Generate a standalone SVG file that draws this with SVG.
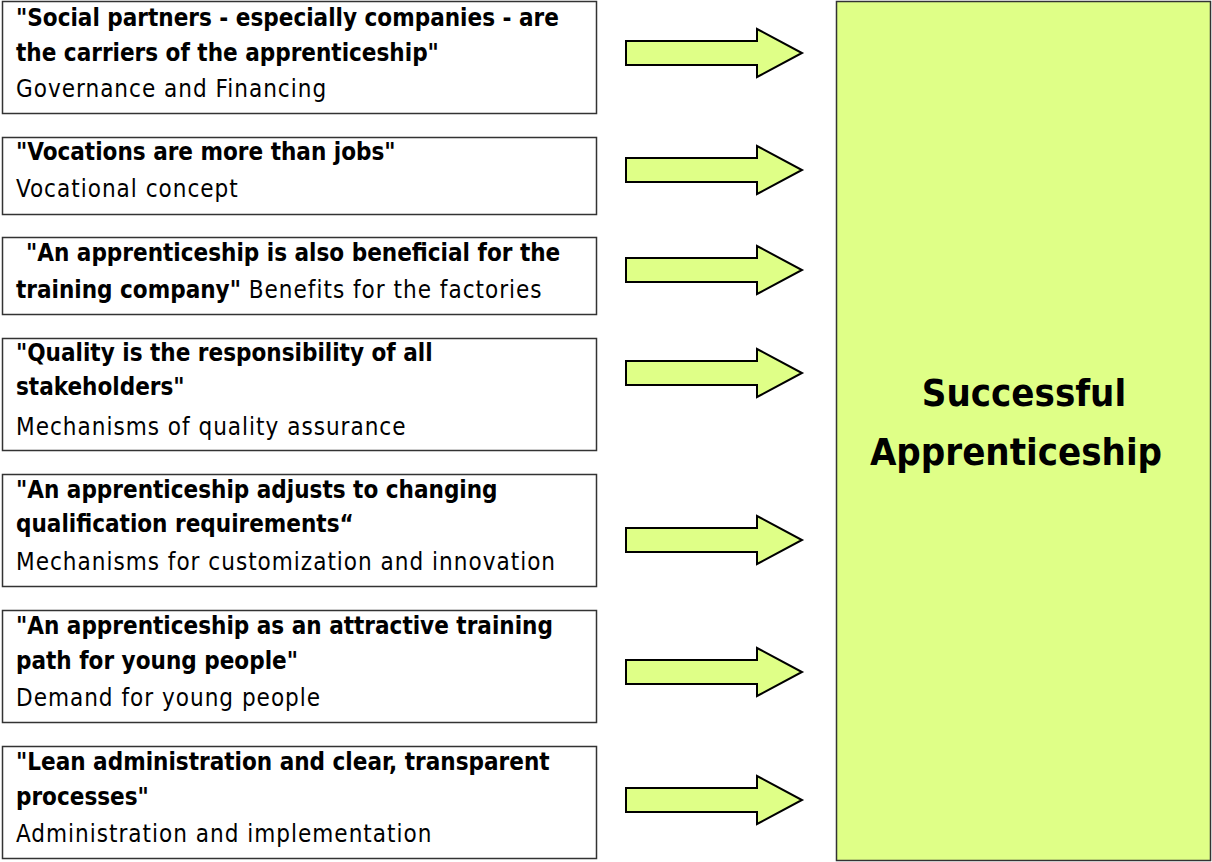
<svg xmlns="http://www.w3.org/2000/svg" width="1212" height="862" viewBox="0 0 1212 862">
<style>
.box{fill:#ffffff;stroke:#333333;stroke-width:1.5}
.t{font-family:"DejaVu Sans Condensed","DejaVu Sans",sans-serif;font-size:24px;fill:#000000;letter-spacing:1px}
.b{font-weight:bold;letter-spacing:0px}
.arrow{fill:#dfff87;stroke:#000000;stroke-width:2;stroke-linejoin:miter}
.big{fill:#dfff87;stroke:#333333;stroke-width:1.5}
.title{font-family:"DejaVu Sans Condensed","DejaVu Sans",sans-serif;font-size:38px;font-weight:bold;fill:#000000;text-anchor:middle}
</style>
<defs>
<path id="arr" d="M0,-12 H131 V-24 L176,0 L131,24 V12 H0 Z"/>
</defs>
<rect width="1212" height="862" fill="#ffffff"/>
<g id="node-result">
<rect class="big" x="836.5" y="1.5" width="374" height="859"/>
<text class="title" x="1024" y="406">Successful</text>
<text class="title" x="1016" y="465">Apprenticeship</text>
</g>
<g id="node-1">
<rect class="box" x="2.5" y="1.5" width="594" height="112"/>
<text class="t b" x="16" y="26">"Social partners - especially companies - are</text>
<text class="t b" x="16" y="61">the carriers of the apprenticeship"</text>
<text class="t" x="16" y="97">Governance and Financing</text>
</g>
<g id="node-2">
<rect class="box" x="2.5" y="137.5" width="594" height="77"/>
<text class="t b" x="16" y="160">"Vocations are more than jobs"</text>
<text class="t" x="16" y="197">Vocational concept</text>
</g>
<g id="node-3">
<rect class="box" x="2.5" y="237.5" width="594" height="77"/>
<text class="t b" x="26" y="261">"An apprenticeship is also beneficial for the</text>
<text class="t" x="16" y="298"><tspan class="b">training company"</tspan> Benefits for the factories</text>
</g>
<g id="node-4">
<rect class="box" x="2.5" y="338.5" width="594" height="112"/>
<text class="t b" x="16" y="361">"Quality is the responsibility of all</text>
<text class="t b" x="16" y="395">stakeholders"</text>
<text class="t" x="16" y="435">Mechanisms of quality assurance</text>
</g>
<g id="node-5">
<rect class="box" x="2.5" y="474.5" width="594" height="112"/>
<text class="t b" x="16" y="498">"An apprenticeship adjusts to changing</text>
<text class="t b" x="16" y="532">qualification requirements“</text>
<text class="t" x="16" y="570">Mechanisms for customization and innovation</text>
</g>
<g id="node-6">
<rect class="box" x="2.5" y="610.5" width="594" height="112"/>
<text class="t b" x="16" y="634">"An apprenticeship as an attractive training</text>
<text class="t b" x="16" y="669">path for young people"</text>
<text class="t" x="16" y="706">Demand for young people</text>
</g>
<g id="node-7">
<rect class="box" x="2.5" y="746.5" width="594" height="112"/>
<text class="t b" x="16" y="770">"Lean administration and clear, transparent</text>
<text class="t b" x="16" y="805">processes"</text>
<text class="t" x="16" y="842">Administration and implementation</text>
</g>
<g id="connectors">
<use href="#arr" class="arrow" x="626" y="53"/>
<use href="#arr" class="arrow" x="626" y="170"/>
<use href="#arr" class="arrow" x="626" y="270"/>
<use href="#arr" class="arrow" x="626" y="373"/>
<use href="#arr" class="arrow" x="626" y="540"/>
<use href="#arr" class="arrow" x="626" y="672"/>
<use href="#arr" class="arrow" x="626" y="800"/>
</g>
</svg>
